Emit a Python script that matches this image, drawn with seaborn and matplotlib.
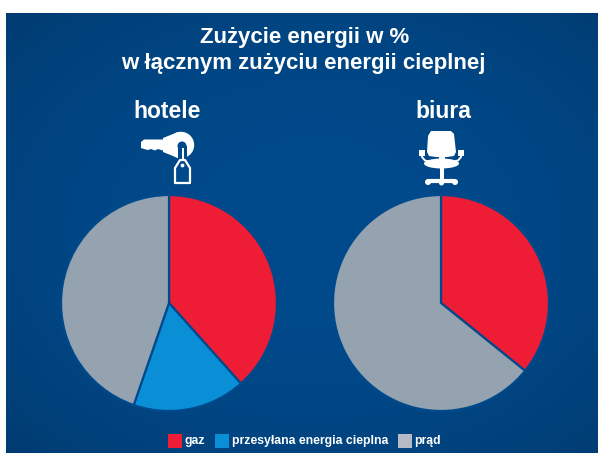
import numpy as np
import matplotlib
matplotlib.use("Agg")
import matplotlib.pyplot as plt
from matplotlib.patches import Circle, Rectangle, Polygon, Ellipse
import seaborn as sns

sns.set_theme(style="white")
plt.rcParams['font.family'] = ['Liberation Sans', 'DejaVu Sans']

W, H = 598, 453
title_lines = ["Zużycie energii w %", "w łącznym zużyciu energii cieplnej"]
groups = ["hotele", "biura"]
hotel_values = [38.4, 16.9, 44.7]
office_values = [35.8, 64.2]
legend_labels = ["gaz", "przesyłana energia cieplna", "prąd"]
colors = ["#EE1C34", "#0A8FD6", "#95A2AF"]
legend_colors = ["#EE1C34", "#0A8FD6", "#B5BAC6"]
edge = "#004A8C"
white = "white"

fig = plt.figure(figsize=(W / 100, H / 100), dpi=100, facecolor="white")

# background panel with radial gradient
bg = fig.add_axes([6 / W, 0, (W - 6) / W, (H - 13) / H])
yy, xx = np.mgrid[0:1:220j, 0:1:300j]
d = np.clip(np.hypot((xx - 0.52) / 0.8, (yy - 0.5) / 0.8), 0, 1) ** 2.2
c0 = np.array([0, 74, 140]) / 255
c1 = np.array([0, 56, 106]) / 255
img = c0[None, None, :] * (1 - d[..., None]) + c1[None, None, :] * d[..., None]
bg.imshow(img, aspect="auto", interpolation="bilinear")
bg.axis("off")


def pie_axes(cx, cy, r):
    ax = fig.add_axes([(cx - r) / W, 1 - (cy + r) / H, 2 * r / W, 2 * r / H])
    ax.patch.set_alpha(0)
    return ax


ax1 = pie_axes(169, 303, 108)
ax1.pie(hotel_values, colors=colors, startangle=90, counterclock=False, radius=1,
        wedgeprops=dict(edgecolor=edge, linewidth=1.6))
ax1.set_xlim(-1, 1); ax1.set_ylim(-1, 1)

ax2 = pie_axes(441, 303, 108)
ax2.pie(office_values, colors=[colors[0], colors[2]], startangle=90, counterclock=False, radius=1,
        wedgeprops=dict(edgecolor=edge, linewidth=1.6))
ax2.set_xlim(-1, 1); ax2.set_ylim(-1, 1)

# overlay in pixel coordinates for text and icons
ov = fig.add_axes([0, 0, 1, 1])
ov.set_xlim(0, W)
ov.set_ylim(H, 0)
ov.axis("off")
ov.patch.set_alpha(0)

ov.text(305, 38, title_lines[0], color=white, fontsize=16, fontweight="bold", ha="center", va="center")
ov.text(303, 63, title_lines[1], color=white, fontsize=16, fontweight="bold", ha="center", va="center")
ov.text(167, 112, groups[0], color=white, fontsize=16.5, fontweight="bold", ha="center", va="center")
ov.text(443, 112, groups[1], color=white, fontsize=16.5, fontweight="bold", ha="center", va="center")

# key icon
ov.add_patch(Circle((181, 145), 13.2, fc=white, ec="none"))
ov.add_patch(Polygon([(163, 138), (178, 132), (178, 158), (163, 152)], fc=white, ec="none"))
ov.add_patch(Polygon([(141, 142), (144, 139.5), (166, 139.5), (166, 151), (161, 150), (158, 149), (155, 150.5),
                     (151, 149), (148, 150), (144, 149), (141, 148)], fc=white, ec="none"))
ov.add_patch(Circle((182, 146), 4.5, fc=edge, ec="none"))
ov.add_patch(Rectangle((177.5, 146), 9, 13, fc=edge, ec="none"))
ov.add_patch(Rectangle((181.5, 148), 2, 13, fc=white, ec="none"))
ov.add_patch(Polygon([(175, 168), (180, 160), (185, 160), (190, 168), (190, 183), (175, 183)],
                     closed=True, fc=edge, ec=white, lw=1.6, joinstyle="round"))
ov.add_patch(Circle((182.5, 165.5), 1.9, fc=white, ec="none"))

# chair icon
ov.add_patch(Polygon([(431, 131), (451, 131), (454, 134), (456, 152), (454, 156), (447, 157), (436, 157),
                     (429, 156), (427, 152), (428, 136)], fc=white, ec="none"))
ov.add_patch(Rectangle((438.5, 157), 6, 6, fc=white, ec="none"))
ov.add_patch(Ellipse((441.5, 163.5), 35, 10, fc=white, ec="none"))
ov.plot([422, 422, 425, 431], [152, 157, 160.5, 162], color=white, lw=1.4, solid_capstyle="round")
ov.plot([461, 461, 458, 452], [152, 157, 160.5, 162], color=white, lw=1.4, solid_capstyle="round")
ov.add_patch(Rectangle((419, 150), 6, 5.5, fc=white, ec="none"))
ov.add_patch(Rectangle((458, 150), 6, 5.5, fc=white, ec="none"))
ov.add_patch(Rectangle((439.5, 168), 4, 12, fc=white, ec="none"))
ov.plot([429, 454], [180.5, 180.5], color=white, lw=3, solid_capstyle="round")
ov.add_patch(Circle((428, 182), 3, fc=white, ec="none"))
ov.add_patch(Circle((455, 182), 3, fc=white, ec="none"))
ov.add_patch(Circle((441.5, 183), 2.5, fc=white, ec="none"))

# legend
ov.add_patch(Rectangle((168, 434), 14, 14, fc=legend_colors[0], ec="none"))
ov.text(184.5, 441, legend_labels[0], color=white, fontsize=8.8, fontweight="bold", ha="left", va="center")
ov.add_patch(Rectangle((215, 434), 14, 14, fc=legend_colors[1], ec="none"))
ov.text(231.5, 441, legend_labels[1], color=white, fontsize=8.8, fontweight="bold", ha="left", va="center")
ov.add_patch(Rectangle((398, 434), 14, 14, fc=legend_colors[2], ec="none"))
ov.text(414.5, 441, legend_labels[2], color=white, fontsize=8.8, fontweight="bold", ha="left", va="center")

fig.savefig("out.png", dpi=100)
